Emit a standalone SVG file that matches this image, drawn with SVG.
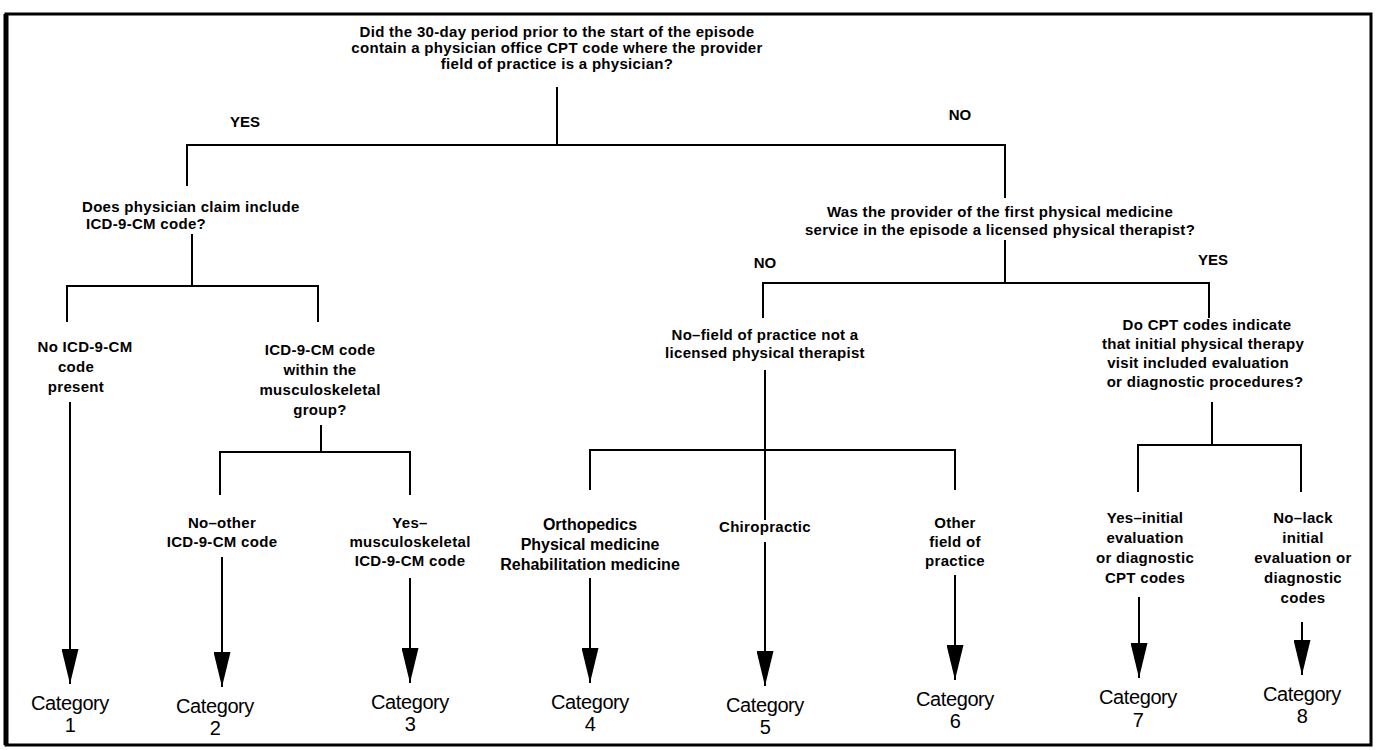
<svg xmlns="http://www.w3.org/2000/svg" width="1378" height="750" viewBox="0 0 1378 750">
<defs>
<style>
.t{font-family:"Liberation Sans",Arial,sans-serif;font-size:15px;font-weight:bold;fill:#000;text-anchor:middle;letter-spacing:0.3px}
.b{font-family:"Liberation Sans",Arial,sans-serif;font-size:15px;font-weight:bold;fill:#000;text-anchor:middle}
.big{font-family:"Liberation Sans",Arial,sans-serif;font-size:16px;font-weight:bold;fill:#000;text-anchor:middle}
.c{font-family:"Liberation Sans",Arial,sans-serif;font-size:20px;fill:#000;text-anchor:middle;letter-spacing:-0.4px}
.ln{stroke:#000;stroke-width:2;fill:none}
.ar{stroke:#000;stroke-width:2;fill:none;marker-end:url(#ah)}
</style>
<marker id="ah" markerUnits="userSpaceOnUse" markerWidth="35" markerHeight="17" refX="35" refY="8.5" orient="auto">
<path d="M0,0 L35,8.5 L0,17 Z" fill="#000"/>
</marker>
</defs>
<rect width="1378" height="750" fill="#fff"/>
<rect x="6" y="14" width="1365" height="731" fill="none" stroke="#000" stroke-width="3"/>
<line x1="6" y1="14" x2="6" y2="745" stroke="#000" stroke-width="5"/>

<g id="connectors">
<polyline class="ln" points="557,87 557,145"/>
<polyline class="ln" points="187,186 187,145 1005,145 1005,198"/>
<polyline class="ln" points="192,234 192,286"/>
<polyline class="ln" points="67,322 67,286 318,286 318,322"/>
<polyline class="ln" points="321,425 321,452"/>
<polyline class="ln" points="220,495 220,452 410,452 410,495"/>
<polyline class="ln" points="1005,240 1005,283"/>
<polyline class="ln" points="763,318 763,283 1209,283 1209,318"/>
<polyline class="ln" points="765,370 765,520"/>
<polyline class="ln" points="590,490 590,450 955,450 955,490"/>
<polyline class="ln" points="1212,402 1212,445"/>
<polyline class="ln" points="1138,492 1138,445 1301,445 1301,492"/>
<line class="ar" x1="70" y1="402" x2="70" y2="684"/>
<line class="ar" x1="222" y1="557" x2="222" y2="687"/>
<line class="ar" x1="410" y1="578" x2="410" y2="683"/>
<line class="ar" x1="590" y1="578" x2="590" y2="683"/>
<line class="ar" x1="765" y1="542" x2="765" y2="686"/>
<line class="ar" x1="955" y1="575" x2="955" y2="680"/>
<line class="ar" x1="1139" y1="597" x2="1139" y2="678"/>
<line class="ar" x1="1302" y1="622" x2="1302" y2="675"/>
</g>

<g id="q1">
<text class="t" x="557" y="37">Did the 30-day period prior to the start of the episode</text>
<text class="t" x="557" y="53">contain a physician office CPT code where the provider</text>
<text class="t" x="557" y="69">field of practice is a physician?</text>
</g>
<g id="yes1"><text class="b" x="245" y="127">YES</text></g>
<g id="no1"><text class="b" x="960" y="120">NO</text></g>

<g id="q2">
<text class="t" x="82" y="212" style="text-anchor:start">Does physician claim include</text>
<text class="t" x="86" y="229" style="text-anchor:start">ICD-9-CM code?</text>
</g>
<g id="n-noicd">
<text class="t" x="85" y="352">No ICD-9-CM</text>
<text class="t" x="76" y="372">code</text>
<text class="t" x="76" y="392">present</text>
</g>
<g id="q3">
<text class="t" x="320" y="355">ICD-9-CM code</text>
<text class="t" x="320" y="375">within the</text>
<text class="t" x="320" y="395">musculoskeletal</text>
<text class="t" x="320" y="415">group?</text>
</g>
<g id="n-noother">
<text class="t" x="222" y="528">No–other</text>
<text class="t" x="222" y="547">ICD-9-CM code</text>
</g>
<g id="n-yesmsk">
<text class="t" x="410" y="528">Yes–</text>
<text class="t" x="410" y="547">musculoskeletal</text>
<text class="t" x="410" y="566">ICD-9-CM code</text>
</g>

<g id="q4">
<text class="t" x="1000" y="217">Was the provider of the first physical medicine</text>
<text class="t" x="1000" y="235">service in the episode a licensed physical therapist?</text>
</g>
<g id="no2"><text class="b" x="765" y="268">NO</text></g>
<g id="yes2"><text class="b" x="1213" y="265">YES</text></g>

<g id="n-notpt">
<text class="t" x="765" y="340">No–field of practice not a</text>
<text class="t" x="765" y="358">licensed physical therapist</text>
</g>
<g id="q5">
<text class="t" x="1207" y="330">Do CPT codes indicate</text>
<text class="t" x="1203" y="349">that initial physical therapy</text>
<text class="t" x="1198" y="368">visit included evaluation</text>
<text class="t" x="1205" y="387">or diagnostic procedures?</text>
</g>

<g id="n-ortho">
<text class="big" x="590" y="530">Orthopedics</text>
<text class="big" x="590" y="550">Physical medicine</text>
<text class="big" x="590" y="570">Rehabilitation medicine</text>
</g>
<g id="n-chiro"><text class="t" x="765" y="532">Chiropractic</text></g>
<g id="n-other">
<text class="t" x="955" y="528">Other</text>
<text class="t" x="955" y="547">field of</text>
<text class="t" x="955" y="566">practice</text>
</g>
<g id="n-yesinit">
<text class="t" x="1145" y="523">Yes–initial</text>
<text class="t" x="1145" y="543">evaluation</text>
<text class="t" x="1145" y="563">or diagnostic</text>
<text class="t" x="1145" y="583">CPT codes</text>
</g>
<g id="n-nolack">
<text class="t" x="1303" y="523">No–lack</text>
<text class="t" x="1303" y="543">initial</text>
<text class="t" x="1303" y="563">evaluation or</text>
<text class="t" x="1303" y="583">diagnostic</text>
<text class="t" x="1303" y="603">codes</text>
</g>

<g id="cat1"><text class="c" x="70" y="710">Category</text><text class="c" x="70" y="732">1</text></g>
<g id="cat2"><text class="c" x="215" y="713">Category</text><text class="c" x="215" y="735">2</text></g>
<g id="cat3"><text class="c" x="410" y="709">Category</text><text class="c" x="410" y="731">3</text></g>
<g id="cat4"><text class="c" x="590" y="709">Category</text><text class="c" x="590" y="731">4</text></g>
<g id="cat5"><text class="c" x="765" y="712">Category</text><text class="c" x="765" y="734">5</text></g>
<g id="cat6"><text class="c" x="955" y="706">Category</text><text class="c" x="955" y="728">6</text></g>
<g id="cat7"><text class="c" x="1138" y="704">Category</text><text class="c" x="1138" y="727">7</text></g>
<g id="cat8"><text class="c" x="1302" y="701">Category</text><text class="c" x="1302" y="723">8</text></g>
</svg>
